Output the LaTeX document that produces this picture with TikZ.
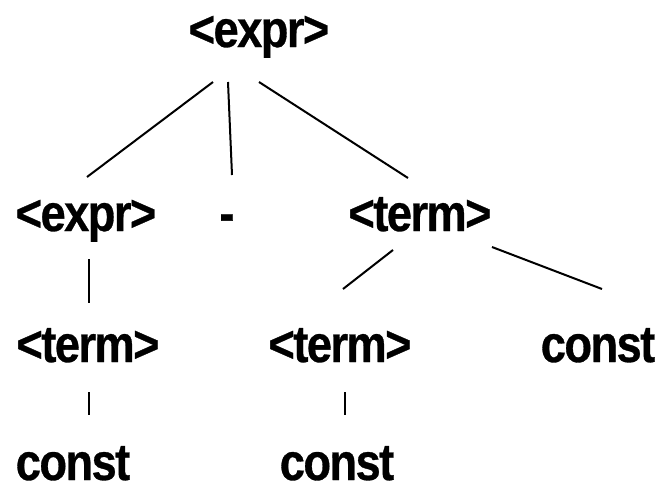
\documentclass[tikz,border=0pt]{standalone}
\usepackage{fontspec}
\newfontfamily\treefont[FakeStretch=0.87,FakeBold=0.6,LetterSpace=-3]{Liberation Sans Bold}
\tikzset{
    sym/.style={inner sep=0pt,anchor=base,font=\treefont\fontsize{52}{52}\selectfont},
    edge/.style={line width=2pt}
}
\begin{document}
\begin{tikzpicture}[x=1pt,y=-1pt]
    \useasboundingbox[fill=white] (0,0) rectangle (659,493);
    \node[sym] (top) at (259,47) {<expr>};
    \node[sym] (e1) at (86,231) {<expr>};
    \node[sym] (mi) at (227,231) {-};
    \node[sym] (t1) at (420,231) {<term>};
    \node[sym] (tA) at (88,362) {<term>};
    \node[sym] (tB) at (340,362) {<term>};
    \node[sym] (cA) at (598,362) {const};
    \node[sym] (k1) at (73,480) {const};
    \node[sym] (k2) at (337,480) {const};
    \draw[edge] ([shift={(-46,35)}]top.base) -- ([shift={(1,-54)}]e1.base);
    \draw[edge] ([shift={(-31,35)}]top.base) -- ([shift={(5,-56)}]mi.base);
    \draw[edge] ([shift={(0,35)}]top.base) -- ([shift={(-12,-53)}]t1.base);
    \draw[edge] ([shift={(3,28)}]e1.base) -- ([shift={(1,-59)}]tA.base);
    \draw[edge] ([shift={(-27,19)}]t1.base) -- ([shift={(3,-73)}]tB.base);
    \draw[edge] ([shift={(72,16)}]t1.base) -- ([shift={(4,-73)}]cA.base);
    \draw[edge] ([shift={(1,30)}]tA.base) -- ([shift={(16,-65)}]k1.base);
    \draw[edge] ([shift={(5,30)}]tB.base) -- ([shift={(8,-65)}]k2.base);
\end{tikzpicture}
\end{document}
